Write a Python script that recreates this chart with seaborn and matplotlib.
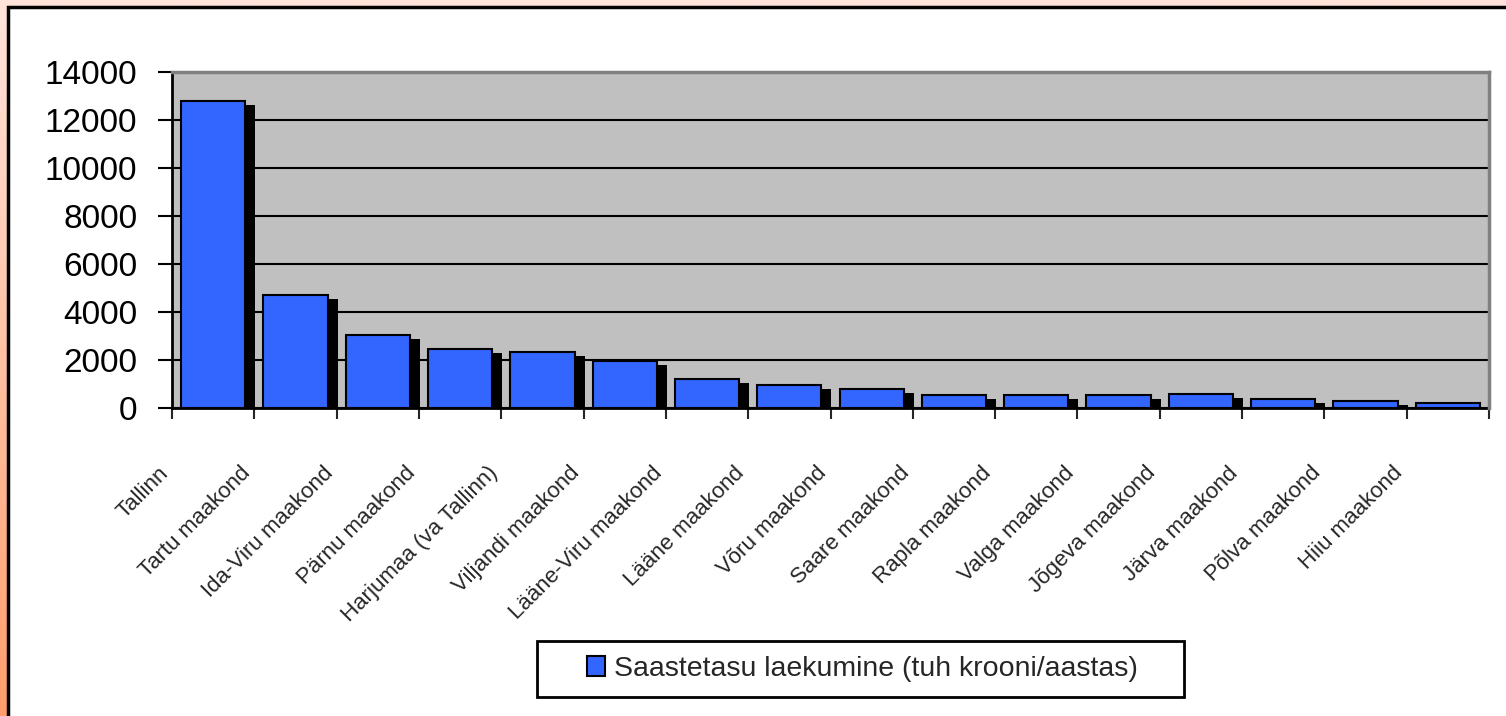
import numpy as np
import pandas as pd
import matplotlib
matplotlib.use("Agg")
import matplotlib.pyplot as plt
from matplotlib import font_manager
from matplotlib.colors import LinearSegmentedColormap
from matplotlib.patches import Rectangle
from matplotlib.transforms import ScaledTranslation
import seaborn as sns

# andmed
regions = ["Tallinn", "Tartu maakond", "Ida-Viru maakond", "Pärnu maakond",
           "Harjumaa (va Tallinn)", "Viljandi maakond", "Lääne-Viru maakond",
           "Lääne maakond", "Võru maakond", "Saare maakond", "Rapla maakond",
           "Valga maakond", "Jõgeva maakond", "Järva maakond", "Põlva maakond",
           "Hiiu maakond"]
values = [12800, 4700, 3050, 2450, 2330, 1970, 1220, 970, 800, 555, 550,
          550, 565, 390, 305, 220]
series_name = "Saastetasu laekumine (tuh krooni/aastas)"
y_ticks = [0, 2000, 4000, 6000, 8000, 10000, 12000, 14000]

df = pd.DataFrame({"maakond": regions, "laekumine": values})

sns.set_style("ticks")
names = {f.name for f in font_manager.fontManager.ttflist}
narrow = "Liberation Sans Narrow" if "Liberation Sans Narrow" in names else "Liberation Sans"
plt.rcParams["font.family"] = ["Liberation Sans", "DejaVu Sans"]

fig = plt.figure(figsize=(15.06, 7.16), dpi=100)

# taust: oranž gradient + valge paneel
bg = fig.add_axes([0, 0, 1, 1], zorder=-10)
grad = np.linspace(0, 1, 256).reshape(-1, 1)
cmap = LinearSegmentedColormap.from_list("bg", ["#FFE4DC", "#FF9E6C"])
bg.imshow(grad, aspect="auto", cmap=cmap, extent=[0, 1, 0, 1], origin="upper")
bg.add_patch(Rectangle((7.5 / 1506, -0.05), 1.2, 1.05 - 6.5 / 716,
                       facecolor="white", edgecolor="black", lw=2.5))
bg.set_xlim(0, 1)
bg.set_ylim(0, 1)
bg.axis("off")

ax = fig.add_axes([172 / 1506, 1 - 408 / 716, 1317 / 1506, 336 / 716])
ax.set_facecolor("#C0C0C0")

# vari
sns.barplot(data=df, x="maakond", y="laekumine", color="black", width=0.78,
            linewidth=0, saturation=1, ax=ax, zorder=2)
shift = ScaledTranslation(10 / 100, -4 / 100, fig.dpi_scale_trans)
for p in ax.containers[0]:
    p.set_transform(ax.transData + shift)

sns.barplot(data=df, x="maakond", y="laekumine", color="#3366FF", width=0.78,
            edgecolor="black", linewidth=1.5, saturation=1, ax=ax, zorder=3,
            label=series_name)

ax.set_xlim(-0.5, len(regions) - 0.5)
ax.set_ylim(0, 14000)
ax.set_yticks(y_ticks)
ax.set_xlabel("")
ax.set_ylabel("")
ax.yaxis.grid(True, color="black", lw=1.5)
ax.set_axisbelow(True)

for s in ["left", "bottom"]:
    ax.spines[s].set_color("black")
    ax.spines[s].set_linewidth(2)
for s in ["top", "right"]:
    ax.spines[s].set_color("#808080")
    ax.spines[s].set_linewidth(2.5)
    ax.spines[s].set_zorder(4)

ax.tick_params(axis="y", length=10, width=1.5, labelsize=24, pad=15, colors="black")
ax.set_xticks(np.arange(len(regions) + 1) - 0.5, minor=True)
ax.tick_params(axis="x", which="minor", length=8, width=1.5, direction="out")
ax.tick_params(axis="x", which="major", length=0, pad=0)
ax.set_xticks(np.arange(len(regions)))
ax.set_xticklabels(regions, rotation=45, ha="right", va="center",
                   rotation_mode="anchor", fontsize=16 if narrow == "Liberation Sans" else 20,
                   family=narrow)
lab_shift = ScaledTranslation(-0.48, -0.62, fig.dpi_scale_trans)
for lab in ax.get_xticklabels():
    lab.set_transform(lab.get_transform() + lab_shift)

# legend
ax.legend().remove()
h, l = ax.get_legend_handles_labels()
fig.add_artist(Rectangle((537 / 1506, 1 - 697 / 716), 647 / 1506, 56 / 716,
                         transform=fig.transFigure, facecolor="white",
                         edgecolor="black", lw=2, zorder=1))
leg = fig.legend(h, l, loc="center", bbox_to_anchor=(862 / 1506, 1 - 669 / 716),
                 frameon=False, fontsize=20.5, handlelength=0.65, handleheight=0.65,
                 handletextpad=0.3)
leg.set_zorder(5)

fig.savefig("out.png", dpi=100)
